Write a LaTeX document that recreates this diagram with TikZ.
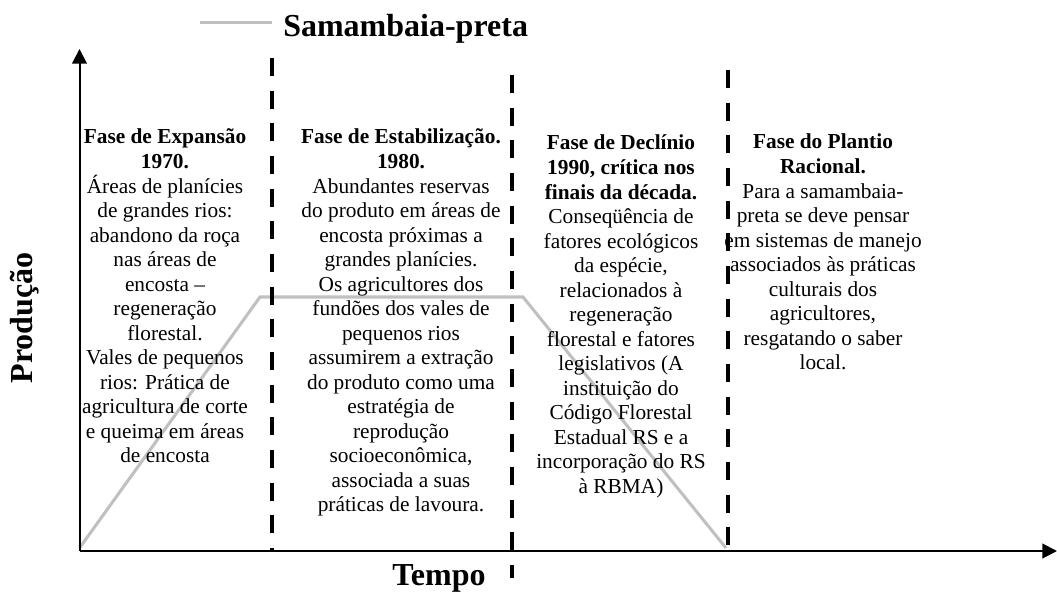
\documentclass[tikz,border=0pt]{standalone}
\usepackage{fontspec}
\setmainfont{Liberation Serif}
\usetikzlibrary{arrows.meta}

\definecolor{cinza}{HTML}{C0C0C0}

\tikzset{
  fase/.style={align=center, inner sep=0pt, anchor=base,
    font=\fontsize{16pt}{18.4pt}\selectfont},
  divisa/.style={line width=3.3pt, dash pattern=on 13.5pt off 11pt},
  eixo/.style={line width=1.5pt, -{Triangle[length=11pt,width=11pt]}},
  curva/.style={cinza, line width=2.3pt},
  rotulo/.style={inner sep=0pt, font=\fontsize{24pt}{28pt}\selectfont\bfseries}
}

\begin{document}
\begin{tikzpicture}[x=0.75pt, y=-0.75pt]
  \pgfmathsetmacro{\xo}{79.5}
  \pgfmathsetmacro{\yo}{551}
  \pgfmathsetmacro{\yp}{297}
  \pgfmathsetmacro{\ls}{24.53}% distancia entre linhas, em pixels
  \useasboundingbox (0,0) rectangle (1057,592);

  % legenda
  \coordinate (leg1) at (200,22.5);
  \coordinate (leg2) at (272,22.5);
  \draw[curva] (leg1) -- (leg2);
  \node[rotulo, anchor=base west] (legenda) at (283,37) {Samambaia-preta};

  % curva da producao
  \coordinate (c0) at (\xo,548);
  \coordinate (c1) at (260,\yp);
  \coordinate (c2) at (523,\yp);
  \coordinate (c3) at (726,548);
  \draw[curva] (c0) -- (c1) -- (c2) -- (c3);

  % divisoes entre as fases
  \foreach \x/\ya/\yb in {272/58/551, 512/75/578, 728/70/551}
    \draw[divisa] (\x,\ya) -- (\x,\yb);

  % eixos
  \coordinate (origem) at (\xo,\yo);
  \coordinate (topo) at (\xo,49);
  \coordinate (fim) at (1057,\yo);
  \draw[eixo] (origem) -- (topo);
  \draw[eixo] (origem) -- (fim);
  \node[rotulo, rotate=90, anchor=base] (producao) at (32,318) {Produção};
  \node[rotulo, anchor=base] (tempo) at (439,585) {Tempo};

  % fases (ancoradas na linha de base da ultima linha)
  \node[fase] (fase1) at (165,144+13*\ls) {\textbf{Fase de Expansão}\\
    \textbf{1970.}\\
    Áreas de planícies\\
    de grandes rios:\\
    abandono da roça\\
    nas áreas de\\
    encosta –\\
    regeneração\\
    florestal.\\
    Vales de pequenos\\
    rios: Prática de\\
    agricultura de corte\\
    e queima em áreas\\
    de encosta};
  \node[fase] (fase2) at (401,144+15*\ls) {\textbf{Fase de Estabilização.}\\
    \textbf{1980.}\\
    Abundantes reservas\\
    do produto em áreas de\\
    encosta próximas a\\
    grandes planícies.\\
    Os agricultores dos\\
    fundões dos vales de\\
    pequenos rios\\
    assumirem a extração\\
    do produto como uma\\
    estratégia de\\
    reprodução\\
    socioeconômica,\\
    associada a suas\\
    práticas de lavoura.};
  \node[fase] (fase3) at (621,150+14*\ls) {\textbf{Fase de Declínio}\\
    \textbf{1990, crítica nos}\\
    \textbf{finais da década.}\\
    Conseqüência de\\
    fatores ecológicos\\
    da espécie,\\
    relacionados à\\
    regeneração\\
    florestal e fatores\\
    legislativos (A\\
    instituição do\\
    Código Florestal\\
    Estadual RS e a\\
    incorporação do RS\\
    à RBMA)};
  \node[fase] (fase4) at (823,149+9*\ls) {\textbf{Fase do Plantio}\\
    \textbf{Racional.}\\
    Para a samambaia-\\
    preta se deve pensar\\
    em sistemas de manejo\\
    associados às práticas\\
    culturais dos\\
    agricultores,\\
    resgatando o saber\\
    local.};
\end{tikzpicture}
\end{document}
